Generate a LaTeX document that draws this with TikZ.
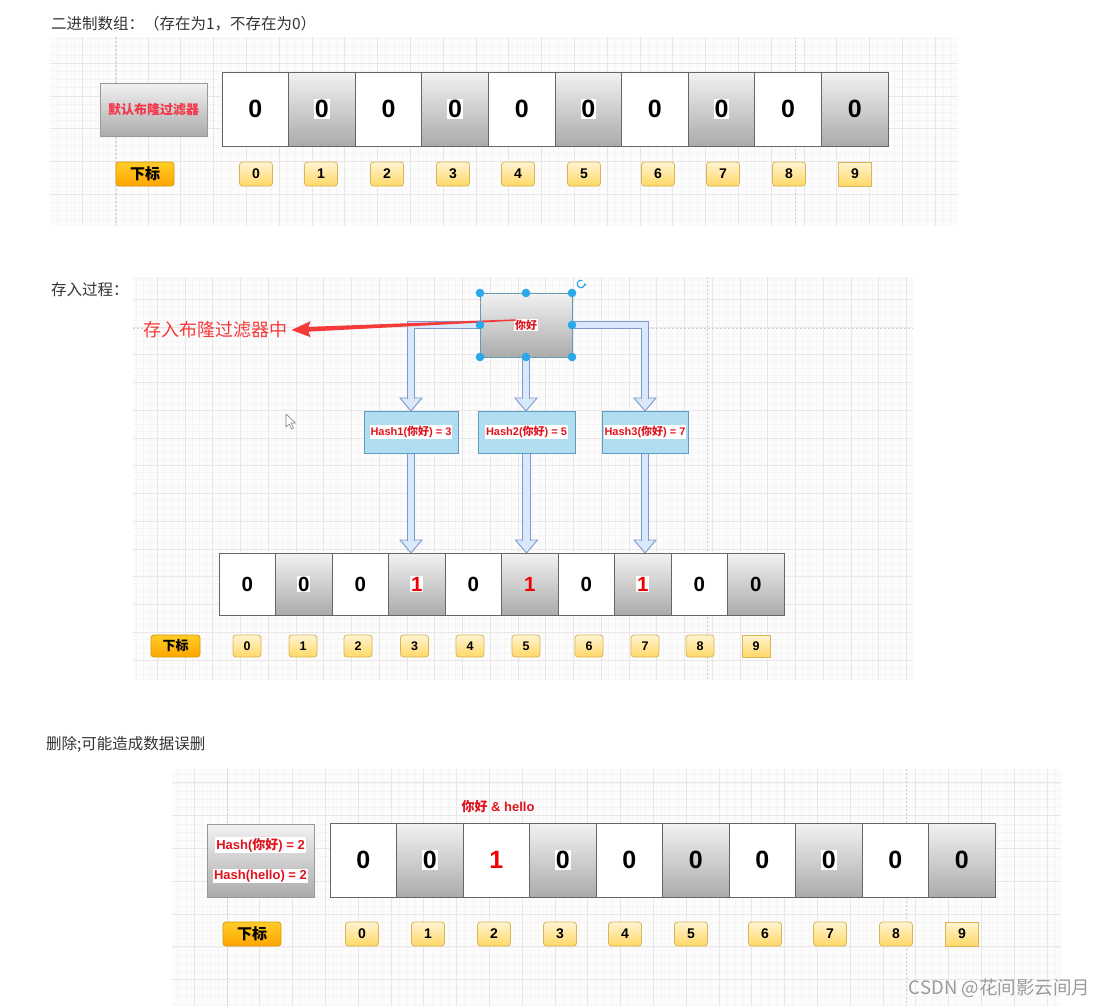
\documentclass[tikz,border=0pt]{standalone}
\usepackage{fontspec}
\setmainfont{Liberation Sans}
\newfontfamily\cjk{Noto Sans CJK SC}
\usetikzlibrary{calc,arrows.meta}
\pgfdeclarelayer{gridl}
\pgfdeclarelayer{arrl}
\pgfsetlayers{gridl,arrl,main}
\setlength{\fboxsep}{0.8bp}
\definecolor{titlegray}{HTML}{333333}
\definecolor{gridbg}{HTML}{FDFCFC}
\definecolor{gridminor}{HTML}{F7F4F5}
\definecolor{gridmajor}{HTML}{EAE6E8}
\definecolor{guidec}{HTML}{CFCFCF}
\definecolor{cellborder}{HTML}{666666}
\definecolor{gtop}{HTML}{F2F2F2}
\definecolor{gbot}{HTML}{ABABAB}
\definecolor{idxtop}{HTML}{FFF4D2}
\definecolor{idxbot}{HTML}{FFD866}
\definecolor{idxborder}{HTML}{D6B656}
\definecolor{ortop}{HTML}{FFCD28}
\definecolor{orbot}{HTML}{FFA500}
\definecolor{orborder}{HTML}{D79B00}
\definecolor{hashfill}{HTML}{B1DDF0}
\definecolor{hashborder}{HTML}{5E9CC2}
\definecolor{labred}{HTML}{E0141E}
\definecolor{pinkred}{HTML}{F5364A}
\definecolor{arrred}{HTML}{F53A3A}
\definecolor{digred}{HTML}{F00000}
\definecolor{bafill}{HTML}{DAE8FC}
\definecolor{baborder}{HTML}{7D9AC9}
\definecolor{handlec}{HTML}{29A9E9}
\definecolor{wmgray}{HTML}{9A9A9A}

\tikzset{
  ttl/.style={anchor=west, text=titlegray, font=\cjk\fontsize{15.5bp}{18bp}\selectfont},
  graycell/.style={draw=cellborder, line width=1bp, top color=gtop, bottom color=gbot, anchor=north west},
  whitecell/.style={draw=cellborder, line width=1bp, fill=white, anchor=north west},
  idx/.style={draw=idxborder, line width=0.8bp, rounded corners=3bp, top color=idxtop, bottom color=idxbot},
  idxsq/.style={draw=idxborder, line width=0.8bp, top color=idxtop, bottom color=idxbot},
  orbox/.style={draw=orborder, line width=0.8bp, rounded corners=3bp, top color=ortop, bottom color=orbot},
  graybox/.style={draw=gray!80, line width=1bp, top color=gtop, bottom color=gbot},
  hashbox/.style={draw=hashborder, line width=1bp, fill=hashfill},
  shaft/.style={draw=baborder, line width=0.9bp, double=bafill, double distance=6.5bp},
  bahead/.style={draw=baborder, fill=bafill, line width=0.9bp, line join=miter},
  guideline/.style={draw=guidec, dash pattern=on 2bp off 2bp, line width=0.7bp},
}

\newcommand\bggrid[7]{%
  \fill[gridbg] (#1,#2) rectangle (#3,#4);
  \begin{scope}
    \clip (#1,#2) rectangle (#3,#4);
    \pgfmathtruncatemacro\gnx{ceil((#3-#5)/(#7/4))}%
    \pgfmathtruncatemacro\gny{ceil((#4-#6)/(#7/4))}%
    \foreach \k in {0,...,\gnx}{\pgfmathsetmacro\gx{#5+\k*#7/4}\draw[gridminor,line width=0.6bp] (\gx,#2) -- (\gx,#4);}
    \foreach \k in {0,...,\gny}{\pgfmathsetmacro\gy{#6+\k*#7/4}\draw[gridminor,line width=0.6bp] (#1,\gy) -- (#3,\gy);}
    \pgfmathtruncatemacro\gmx{ceil((#3-#5)/#7)}%
    \pgfmathtruncatemacro\gmy{ceil((#4-#6)/#7)}%
    \foreach \k in {0,...,\gmx}{\pgfmathsetmacro\gx{#5+\k*#7}\draw[gridmajor,line width=0.8bp] (\gx,#2) -- (\gx,#4);}
    \foreach \k in {0,...,\gmy}{\pgfmathsetmacro\gy{#6+\k*#7}\draw[gridmajor,line width=0.8bp] (#1,\gy) -- (#3,\gy);}
  \end{scope}}

\newcommand\cellrow[7]{%
  \foreach \d/\p [count=\n from 0] in {#7}{%
    \pgfmathsetmacro\xl{#2+#4*\n}%
    \ifodd\n
      \node[graycell, minimum width=#4bp, minimum height=#5bp] (#1\n) at (\xl,#3) {};
    \else
      \node[whitecell, minimum width=#4bp, minimum height=#5bp] (#1\n) at (\xl,#3) {};
    \fi
    \ifnum\d=1 \def\dc{digred}\else\def\dc{black}\fi
    \node[text=\dc, font=\bfseries\fontsize{#6bp}{#6bp}\selectfont] at (#1\n) {\ifnum\p=1 \colorbox{white}{\d}\else \d\fi};
  }}

\newcommand\idxrow[6]{%
  \foreach \c [count=\n from 0] in {#6}{%
    \ifnum\n=9
      \node[idxsq, minimum width=#3bp, minimum height=#4bp, font=\bfseries\fontsize{#5bp}{#5bp}\selectfont] (#1\n) at (\c,#2) {\n};
    \else
      \node[idx, minimum width=#3bp, minimum height=#4bp, font=\bfseries\fontsize{#5bp}{#5bp}\selectfont] (#1\n) at (\c,#2) {\n};
    \fi}}

\begin{document}
\begin{tikzpicture}[x=1bp, y=-1bp, every node/.style={inner sep=0pt, outer sep=0pt}]
\useasboundingbox (0,0) rectangle (1103,1006);
\begin{pgfonlayer}{gridl}
  \fill[white] (0,0) rectangle (1103,1006);
  \bggrid{50}{37}{958}{226}{49.5}{30.3}{32.8}
  \bggrid{133}{277}{913}{680}{129.5}{271.5}{27.75}
  \bggrid{172}{769}{1061}{1006}{161.3}{750}{32.8}
  \draw[guideline] (116,37) -- (116,226);
  \draw[guideline] (795,37) -- (795,226);
  \draw[guideline] (707,277) -- (707,680);
  \draw[guideline] (133,328) -- (143,328);
  \draw[guideline] (648,328) -- (913,328);
  \draw[guideline] (227,769) -- (227,1006);
  \draw[guideline] (906,769) -- (906,1006);
\end{pgfonlayer}

% ---------------- Section 1
\node[ttl] (t1) at (51,24) {二进制数组：（存在为1，不存在为0）};
\node[graybox, anchor=north west, minimum width=107bp, minimum height=53bp,
      text=pinkred, font=\cjk\bfseries\fontsize{13bp}{13bp}\selectfont] (bf1) at (100,83) {默认布隆过滤器};
\cellrow{sa}{222}{72}{66.6}{74}{25}{0/0,0/1,0/0,0/1,0/0,0/1,0/0,0/1,0/0,0/0}
\node[orbox, minimum width=58bp, minimum height=24bp, font=\cjk\bfseries\fontsize{15bp}{15bp}\selectfont] (xb1) at (145,174) {下标};
\idxrow{ia}{174}{33}{24}{14}{256,321,387,453,518,584,658,723,789,855}

% ---------------- Section 2
\node[ttl] (t2) at (51,290) {存入过程：};
\cellrow{sb}{219}{553}{56.5}{62}{20.5}{0/0,0/1,0/0,1/1,0/0,1/0,0/0,1/1,0/0,0/0}
\node[orbox, minimum width=49bp, minimum height=22bp, font=\cjk\bfseries\fontsize{13bp}{13bp}\selectfont] (xb2) at (175.5,646) {下标};
\idxrow{ib}{646}{28}{22}{12.5}{247,303,358,414.5,470,526,589,645,700,756}

\node[hashbox, minimum width=94bp, minimum height=42bp] (h1) at (411,432)
  {\textcolor{labred}{\bfseries\fontsize{11bp}{11bp}\selectfont\colorbox{white}{Hash1({\cjk 你好}) = 3}}};
\node[hashbox, minimum width=97bp, minimum height=42bp] (h2) at (526.5,432)
  {\textcolor{labred}{\bfseries\fontsize{11bp}{11bp}\selectfont\colorbox{white}{Hash2({\cjk 你好}) = 5}}};
\node[hashbox, minimum width=86bp, minimum height=42bp] (h3) at (645,432)
  {\textcolor{labred}{\bfseries\fontsize{11bp}{11bp}\selectfont\colorbox{white}{Hash3({\cjk 你好}) = 7}}};
\node[graybox, minimum width=92bp, minimum height=64bp] (ni) at (526,325)
  {\textcolor{labred}{\cjk\bfseries\fontsize{11bp}{11bp}\selectfont\colorbox{white}{你好}}};
\draw[handlec!70!gray, dash pattern=on 2bp off 1.5bp, line width=0.7bp] (ni.north west) rectangle (ni.south east);

\begin{pgfonlayer}{arrl}
  % heads
  \draw[bahead] (h1.north) -- ++(-11,-13) -- ++(22,0) -- cycle;
  \draw[bahead] (ni.south |- h2.north) -- ++(-11,-13) -- ++(22,0) -- cycle;
  \draw[bahead] (h3.north) -- ++(-11,-13) -- ++(22,0) -- cycle;
  \draw[bahead] (h1.south |- sb3.north) -- ++(-11,-13) -- ++(22,0) -- cycle;
  \draw[bahead] (h2.south |- sb5.north) -- ++(-11,-13) -- ++(22,0) -- cycle;
  \draw[bahead] (h3.south |- sb7.north) -- ++(-11,-13) -- ++(22,0) -- cycle;
  % shafts
  \draw[shaft] (ni.west) -| ([yshift=12bp]h1.north);
  \draw[shaft] (ni.south) -- ([yshift=12bp]ni.south |- h2.north);
  \draw[shaft] (ni.east) -| ([yshift=12bp]h3.north);
  \draw[shaft] (h1.south) -- ([yshift=12bp]h1.south |- sb3.north);
  \draw[shaft] (h2.south) -- ([yshift=12bp]h2.south |- sb5.north);
  \draw[shaft] (h3.south) -- ([yshift=12bp]h3.south |- sb7.north);
\end{pgfonlayer}

\node[text=arrred, font=\cjk\fontsize{18bp}{18bp}\selectfont] (lbl) at (215.5,330) {存入布隆过滤器中};
\coordinate (rtail) at (516,320);
\fill[arrred] let \p1=(rtail), \p2=([xshift=4bp]lbl.east), \n1={(\y1-\y2)/(\x1-\x2)} in
  (\x2,\y2) -- ({\x2+19bp},{\y2+19bp*\n1+8bp}) -- ({\x2+17bp},{\y2+17bp*\n1+2.4bp})
  -- (\x1,{\y1+0.7bp}) -- (\x1,{\y1-0.7bp})
  -- ({\x2+17bp},{\y2+17bp*\n1-2.4bp}) -- ({\x2+19bp},{\y2+19bp*\n1-8bp}) -- cycle;

\foreach \a in {north west,north,north east,west,east,south west,south,south east}
  \fill[handlec] (ni.\a) circle[radius=4.3bp];
\coordinate (rot) at ([shift={(9,-9)}]ni.north east);
\draw[handlec, line width=1.1bp, -{Stealth[length=2.6bp,width=3.2bp]}] (rot) ++(70:3.8bp) arc[start angle=70, end angle=370, radius=3.8bp];

\coordinate (cur) at (286,414);
\draw[gray, fill=white, line width=0.6bp, line join=round] (cur) -- ++(0,13) -- ++(3,-3) -- ++(2.5,5) -- ++(2,-1) -- ++(-2.5,-5) -- ++(4.5,0) -- cycle;

% ---------------- Section 3
\node[ttl] (t3) at (46,744) {删除;可能造成数据误删};
\node[graybox, anchor=north west, minimum width=107bp, minimum height=73bp] (hb) at (207,824) {};
\node[text=labred, font=\bfseries\fontsize{13bp}{13bp}\selectfont] (hb1) at ([yshift=15.5bp]hb.center) {\colorbox{white}{Hash({\cjk 你好}) = 2}};
\node[text=labred, font=\bfseries\fontsize{13bp}{13bp}\selectfont] (hb2) at ([yshift=-15.5bp]hb.center) {\colorbox{white}{Hash(hello) = 2}};
\cellrow{sc}{330}{823}{66.5}{74}{25}{0/0,0/1,1/0,0/1,0/0,0/0,0/0,0/1,0/0,0/0}
\node[text=labred, font=\bfseries\fontsize{13bp}{13bp}\selectfont] (nh) at (498,807) {{\cjk 你好} \& hello};
\node[orbox, minimum width=58bp, minimum height=24bp, font=\cjk\bfseries\fontsize{15bp}{15bp}\selectfont] (xb3) at (252,934) {下标};
\idxrow{ic}{934}{33}{24}{14}{362,428,494,560,625,691,765,830,896,962}

\node[anchor=east, text=wmgray, font=\cjk\fontsize{18.5bp}{18.5bp}\selectfont] (wm) at (1090,988) {CSDN @花间影云间月};
\end{tikzpicture}
\end{document}
